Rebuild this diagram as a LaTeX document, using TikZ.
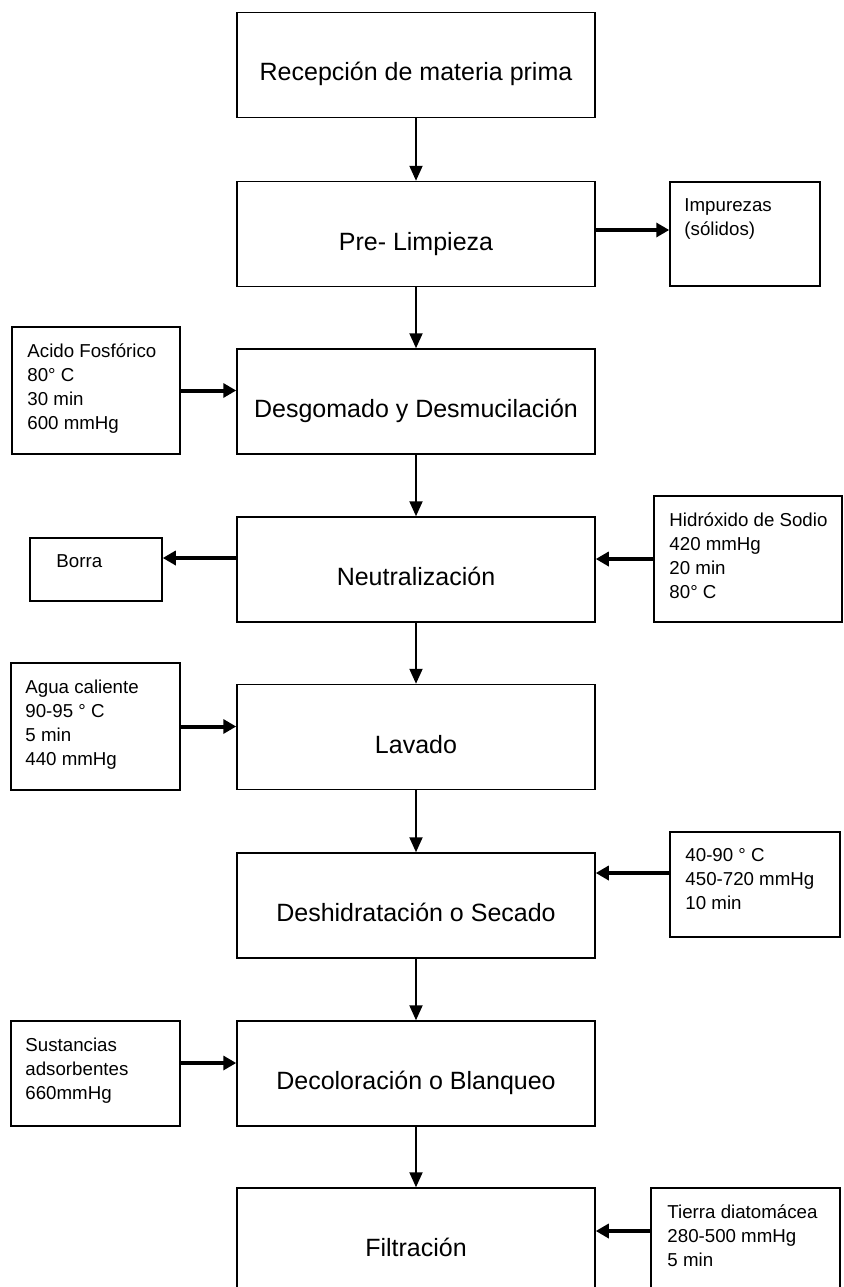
\documentclass[tikz,border=0pt]{standalone}
\usepackage{fontspec}
\setmainfont{Liberation Sans}
\usetikzlibrary{arrows.meta}

\begin{document}
\begin{tikzpicture}[x=1pt, y=-1pt]
            \tikzset{paso/.style={draw, line width=1.5pt, minimum width=358pt, minimum height=105pt, inner sep=0pt,
                font=\fontsize{25}{30}\selectfont, text height=34pt, text depth=2pt},
            nota/.style={draw, line width=1.5pt, inner sep=0pt},
            notatexto/.style={anchor=north west, align=left, inner sep=0pt, font=\fontsize{18.7}{24}\selectfont},
            flecha/.style={line width=2pt, -{Triangle[length=15pt, width=13pt]}},
            flechag/.style={line width=4pt, -{Triangle[length=13pt, width=14pt]}}}

            \useasboundingbox (0,0) rectangle (843,1287);
            \clip (0,0) rectangle (843,1287);

            \node[paso] (recepcion) at (416,65) {Recepción de materia prima};
            \node[paso] (prelimpieza) at (416,234) {Pre- Limpieza};
            \node[paso] (desgomado) at (416,401.5) {Desgomado y Desmucilación};
            \node[paso] (neutralizacion) at (416,569.5) {Neutralización};
            \node[paso] (lavado) at (416,737) {Lavado};
            \node[paso] (deshidratacion) at (416,905.5) {Deshidratación o Secado};
            \node[paso] (decoloracion) at (416,1073.5) {Decoloración o Blanqueo};
            \node[paso] (filtracion) at (416,1240.5) {Filtración};

            \node[nota, minimum width=150pt, minimum height=104pt] (impurezas) at (745,234) {};
            \node[notatexto] (impurezas-t) at ([shift={(15pt,-17pt)}]impurezas.north west) {Impurezas\\(sólidos)};
            \node[nota, minimum width=168pt, minimum height=127pt] (acido) at (96,390.5) {};
            \node[notatexto] (acido-t) at ([shift={(16pt,-17pt)}]acido.north west) {Acido Fosfórico\\80° C\\30 min\\600 mmHg};
            \node[nota, minimum width=132pt, minimum height=63pt] (borra) at (96,569.5) {};
            \node[notatexto] (borra-t) at ([shift={(27pt,-17pt)}]borra.north west) {Borra};
            \node[nota, minimum width=188pt, minimum height=126pt] (hidroxido) at (748,559) {};
            \node[notatexto] (hidroxido-t) at ([shift={(16pt,-17pt)}]hidroxido.north west) {Hidróxido de Sodio\\420 mmHg\\20 min\\80° C};
            \node[nota, minimum width=169pt, minimum height=127pt] (agua) at (95.5,726.5) {};
            \node[notatexto] (agua-t) at ([shift={(15pt,-17pt)}]agua.north west) {Agua caliente\\90-95 ° C\\5 min\\440 mmHg};
            \node[nota, minimum width=170pt, minimum height=105pt] (secado) at (755,884.5) {};
            \node[notatexto] (secado-t) at ([shift={(16pt,-17pt)}]secado.north west) {40-90 ° C\\450-720 mmHg\\10 min};
            \node[nota, minimum width=169pt, minimum height=105pt] (sustancias) at (95.5,1073.5) {};
            \node[notatexto] (sustancias-t) at ([shift={(15pt,-17pt)}]sustancias.north west) {Sustancias\\adsorbentes\\660mmHg};
            \node[nota, minimum width=189pt, minimum height=105pt] (tierra) at (745.5,1240.5) {};
            \node[notatexto] (tierra-t) at ([shift={(17pt,-17pt)}]tierra.north west) {Tierra diatomácea\\280-500 mmHg\\5 min};

            \draw[flecha] (recepcion) -- (prelimpieza);
            \draw[flecha] (prelimpieza) -- (desgomado);
            \draw[flecha] (desgomado) -- (neutralizacion);
            \draw[flecha] (neutralizacion) -- (lavado);
            \draw[flecha] (lavado) -- (deshidratacion);
            \draw[flecha] (deshidratacion) -- (decoloracion);
            \draw[flecha] (decoloracion) -- (filtracion);

            \draw[flechag] ([yshift=4pt]prelimpieza.east) -- ([yshift=4pt]impurezas.west);
            \draw[flechag] (acido.east) -- (acido.east -| desgomado.west);
            \draw[flechag] ([yshift=11.5pt]neutralizacion.west) -- ([yshift=11.5pt]neutralizacion.west -| borra.east);
            \draw[flechag] (hidroxido.west) -- (hidroxido.west -| neutralizacion.east);
            \draw[flechag] (agua.east) -- (agua.east -| lavado.west);
            \draw[flechag] ([yshift=11.5pt]secado.west) -- ([yshift=11.5pt]secado.west -| deshidratacion.east);
            \draw[flechag] ([yshift=10.5pt]sustancias.east) -- ([yshift=10.5pt]sustancias.east -| decoloracion.west);
            \draw[flechag] ([yshift=9.5pt]tierra.west) -- ([yshift=9.5pt]tierra.west -| filtracion.east);
        \end{tikzpicture}
\end{document}
